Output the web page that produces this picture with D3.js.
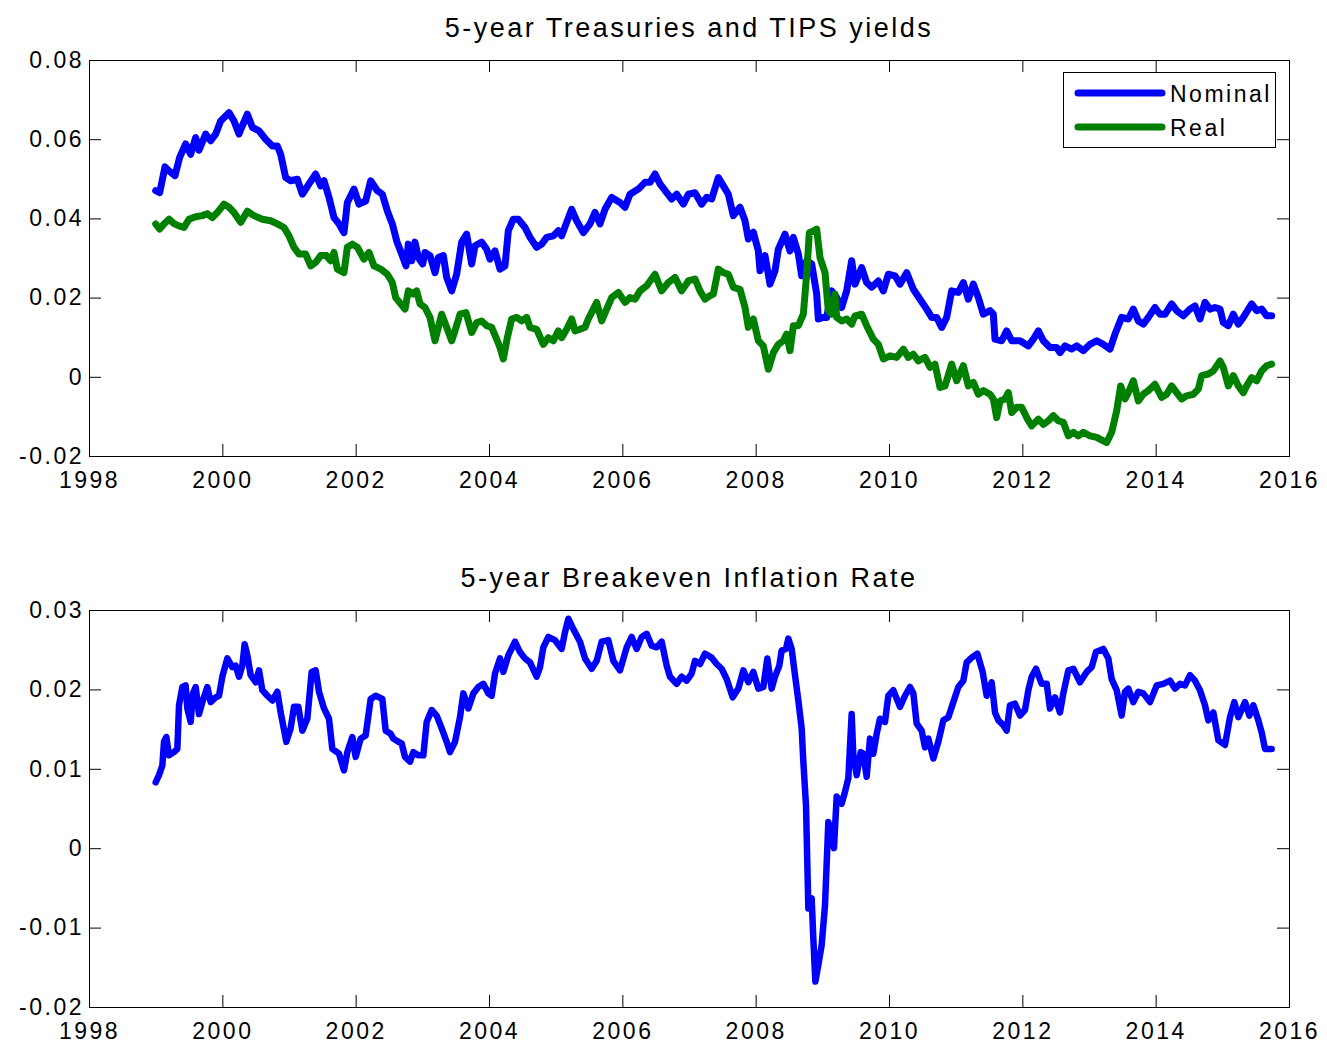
<!DOCTYPE html>
<html>
<head>
<meta charset="utf-8">
<script src="https://cdn.jsdelivr.net/npm/d3@7"></script>
<style>
  body { margin: 0; background: #fff; }
  svg { display: block; }
  text { font-family: "Liberation Sans", Arial, Helvetica, sans-serif; fill: #000; }
</style>
</head>
<body>
<svg width="1327" height="1046"></svg>
<script>
// 5-year nominal Treasury yield (decimal)
var nomDates = [1999.000,1999.060,1999.140,1999.200,1999.290,1999.360,1999.450,1999.525,1999.600,1999.650,1999.750,1999.825,1999.900,1999.975,2000.100,2000.175,2000.250,2000.300,2000.375,2000.450,2000.550,2000.650,2000.750,2000.825,2000.875,2000.950,2001.025,2001.125,2001.200,2001.300,2001.400,2001.475,2001.525,2001.600,2001.675,2001.750,2001.825,2001.875,2001.975,2002.050,2002.150,2002.225,2002.325,2002.400,2002.475,2002.550,2002.615,2002.690,2002.755,2002.790,2002.840,2002.890,2002.940,2003.005,2003.040,2003.115,2003.190,2003.240,2003.315,2003.365,2003.440,2003.515,2003.590,2003.665,2003.740,2003.790,2003.890,2003.965,2004.015,2004.090,2004.165,2004.240,2004.290,2004.365,2004.440,2004.540,2004.615,2004.715,2004.790,2004.865,2004.965,2005.040,2005.090,2005.165,2005.240,2005.315,2005.415,2005.515,2005.590,2005.665,2005.740,2005.840,2005.965,2006.040,2006.115,2006.240,2006.340,2006.415,2006.490,2006.565,2006.665,2006.740,2006.815,2006.915,2006.990,2007.090,2007.190,2007.265,2007.340,2007.440,2007.515,2007.590,2007.665,2007.765,2007.840,2007.890,2007.965,2008.040,2008.065,2008.140,2008.215,2008.290,2008.340,2008.440,2008.515,2008.565,2008.640,2008.690,2008.765,2008.840,2008.915,2008.940,2009.015,2009.065,2009.140,2009.215,2009.290,2009.365,2009.440,2009.490,2009.590,2009.665,2009.740,2009.840,2009.915,2009.990,2010.090,2010.165,2010.265,2010.365,2010.465,2010.565,2010.640,2010.715,2010.790,2010.865,2010.940,2011.040,2011.115,2011.190,2011.265,2011.340,2011.415,2011.515,2011.565,2011.590,2011.690,2011.765,2011.840,2011.965,2012.090,2012.165,2012.240,2012.315,2012.415,2012.515,2012.565,2012.640,2012.740,2012.815,2012.915,2013.015,2013.115,2013.215,2013.315,2013.390,2013.490,2013.590,2013.665,2013.740,2013.815,2013.890,2013.990,2014.065,2014.140,2014.240,2014.315,2014.415,2014.515,2014.590,2014.665,2014.740,2014.815,2014.890,2014.965,2015.015,2015.090,2015.165,2015.240,2015.315,2015.440,2015.515,2015.590,2015.665,2015.740];
var nomYield = [0.0470,0.0465,0.0530,0.0520,0.0508,0.0554,0.0588,0.0562,0.0604,0.0572,0.0613,0.0596,0.0613,0.0646,0.0667,0.0646,0.0613,0.0634,0.0663,0.0630,0.0621,0.0600,0.0583,0.0583,0.0562,0.0503,0.0495,0.0499,0.0461,0.0487,0.0512,0.0482,0.0495,0.0453,0.0402,0.0386,0.0364,0.0440,0.0474,0.0436,0.0444,0.0495,0.0470,0.0461,0.0419,0.0386,0.0343,0.0310,0.0280,0.0335,0.0293,0.0340,0.0301,0.0285,0.0314,0.0306,0.0263,0.0301,0.0306,0.0251,0.0217,0.0259,0.0340,0.0360,0.0285,0.0331,0.0340,0.0322,0.0297,0.0318,0.0272,0.0280,0.0369,0.0398,0.0398,0.0377,0.0352,0.0327,0.0335,0.0352,0.0356,0.0369,0.0356,0.0390,0.0423,0.0394,0.0364,0.0386,0.0415,0.0386,0.0423,0.0453,0.0440,0.0428,0.0461,0.0474,0.0491,0.0491,0.0512,0.0487,0.0465,0.0449,0.0461,0.0436,0.0461,0.0465,0.0436,0.0453,0.0449,0.0503,0.0482,0.0461,0.0407,0.0428,0.0394,0.0348,0.0365,0.0318,0.0268,0.0306,0.0234,0.0268,0.0322,0.0360,0.0318,0.0352,0.0310,0.0255,0.0293,0.0285,0.0209,0.0146,0.0150,0.0150,0.0217,0.0200,0.0175,0.0217,0.0293,0.0234,0.0276,0.0238,0.0226,0.0242,0.0217,0.0259,0.0255,0.0234,0.0263,0.0221,0.0196,0.0171,0.0150,0.0150,0.0125,0.0150,0.0217,0.0213,0.0238,0.0196,0.0234,0.0200,0.0158,0.0167,0.0158,0.0095,0.0091,0.0116,0.0091,0.0091,0.0078,0.0095,0.0116,0.0091,0.0074,0.0074,0.0061,0.0078,0.0070,0.0078,0.0066,0.0082,0.0091,0.0082,0.0070,0.0108,0.0150,0.0146,0.0171,0.0141,0.0133,0.0150,0.0175,0.0158,0.0158,0.0184,0.0167,0.0154,0.0171,0.0179,0.0146,0.0188,0.0171,0.0175,0.0171,0.0137,0.0129,0.0158,0.0133,0.0150,0.0184,0.0167,0.0171,0.0154,0.0154];

// 5-year TIPS (real) yield (decimal)
var realDates = [1999.000,1999.060,1999.125,1999.200,1999.275,1999.350,1999.425,1999.500,1999.600,1999.700,1999.775,1999.850,1999.925,2000.025,2000.100,2000.175,2000.275,2000.375,2000.475,2000.600,2000.725,2000.825,2000.925,2001.000,2001.075,2001.150,2001.250,2001.325,2001.400,2001.475,2001.560,2001.625,2001.675,2001.725,2001.825,2001.875,2001.950,2002.025,2002.125,2002.200,2002.275,2002.375,2002.475,2002.550,2002.600,2002.740,2002.790,2002.865,2002.915,2002.965,2003.040,2003.115,2003.190,2003.240,2003.290,2003.365,2003.440,2003.490,2003.565,2003.655,2003.740,2003.815,2003.890,2003.965,2004.040,2004.115,2004.165,2004.215,2004.275,2004.340,2004.415,2004.490,2004.565,2004.615,2004.715,2004.815,2004.890,2004.965,2005.040,2005.090,2005.165,2005.240,2005.290,2005.365,2005.440,2005.490,2005.565,2005.615,2005.690,2005.765,2005.840,2005.940,2006.040,2006.115,2006.190,2006.265,2006.365,2006.490,2006.590,2006.690,2006.790,2006.890,2006.990,2007.090,2007.165,2007.240,2007.315,2007.365,2007.440,2007.515,2007.590,2007.665,2007.765,2007.840,2007.890,2007.965,2008.040,2008.115,2008.190,2008.265,2008.340,2008.415,2008.465,2008.515,2008.565,2008.640,2008.715,2008.765,2008.805,2008.875,2008.915,2008.965,2009.040,2009.090,2009.140,2009.190,2009.215,2009.290,2009.365,2009.440,2009.490,2009.590,2009.665,2009.765,2009.840,2009.915,2010.015,2010.115,2010.215,2010.290,2010.365,2010.440,2010.540,2010.615,2010.690,2010.765,2010.840,2010.940,2011.015,2011.115,2011.190,2011.265,2011.340,2011.415,2011.515,2011.565,2011.615,2011.665,2011.740,2011.790,2011.840,2011.915,2011.990,2012.065,2012.140,2012.240,2012.315,2012.390,2012.465,2012.540,2012.615,2012.690,2012.765,2012.840,2012.915,2013.015,2013.115,2013.215,2013.265,2013.340,2013.415,2013.475,2013.540,2013.590,2013.665,2013.740,2013.815,2013.890,2013.990,2014.090,2014.165,2014.240,2014.315,2014.390,2014.465,2014.565,2014.640,2014.690,2014.790,2014.865,2014.965,2015.015,2015.090,2015.165,2015.240,2015.315,2015.365,2015.440,2015.515,2015.590,2015.665,2015.740];
var realYield = [0.0386,0.0373,0.0386,0.0398,0.0387,0.0381,0.0377,0.0398,0.0404,0.0407,0.0412,0.0402,0.0415,0.0436,0.0428,0.0415,0.0390,0.0418,0.0407,0.0398,0.0394,0.0386,0.0377,0.0356,0.0327,0.0310,0.0310,0.0280,0.0289,0.0306,0.0306,0.0293,0.0314,0.0272,0.0263,0.0327,0.0335,0.0327,0.0297,0.0314,0.0280,0.0272,0.0259,0.0238,0.0200,0.0171,0.0217,0.0209,0.0217,0.0184,0.0175,0.0150,0.0091,0.0125,0.0158,0.0125,0.0091,0.0116,0.0158,0.0162,0.0112,0.0137,0.0141,0.0129,0.0125,0.0095,0.0074,0.0045,0.0099,0.0146,0.0150,0.0141,0.0150,0.0125,0.0120,0.0082,0.0099,0.0091,0.0116,0.0099,0.0120,0.0146,0.0116,0.0120,0.0125,0.0146,0.0171,0.0188,0.0141,0.0171,0.0200,0.0213,0.0188,0.0200,0.0196,0.0217,0.0230,0.0259,0.0217,0.0238,0.0251,0.0217,0.0242,0.0247,0.0217,0.0196,0.0205,0.0209,0.0272,0.0263,0.0259,0.0226,0.0221,0.0175,0.0125,0.0146,0.0091,0.0078,0.0019,0.0061,0.0082,0.0091,0.0108,0.0066,0.0129,0.0129,0.0158,0.0259,0.0364,0.0369,0.0373,0.0301,0.0263,0.0167,0.0158,0.0209,0.0150,0.0141,0.0146,0.0133,0.0154,0.0158,0.0129,0.0095,0.0082,0.0045,0.0053,0.0049,0.0070,0.0049,0.0057,0.0040,0.0049,0.0024,0.0032,-0.0027,-0.0023,0.0032,-0.0010,0.0028,-0.0023,-0.0014,-0.0044,-0.0035,-0.0044,-0.0056,-0.0103,-0.0061,-0.0056,-0.0040,-0.0090,-0.0077,-0.0077,-0.0103,-0.0124,-0.0107,-0.0120,-0.0111,-0.0098,-0.0111,-0.0115,-0.0149,-0.0140,-0.0149,-0.0140,-0.0149,-0.0153,-0.0162,-0.0166,-0.0140,-0.0086,-0.0023,-0.0056,-0.0040,-0.0010,-0.0061,-0.0044,-0.0035,-0.0019,-0.0052,-0.0044,-0.0023,-0.0040,-0.0056,-0.0048,-0.0044,-0.0031,0.0003,0.0007,0.0015,0.0040,0.0024,-0.0023,0.0003,-0.0023,-0.0040,-0.0023,-0.0002,-0.0010,0.0015,0.0028,0.0032];

// 5-year breakeven inflation rate (decimal)
var beDates = [1999.000,1999.050,1999.100,1999.125,1999.160,1999.200,1999.275,1999.325,1999.350,1999.400,1999.450,1999.475,1999.525,1999.560,1999.600,1999.650,1999.700,1999.775,1999.825,1999.900,1999.950,2000.000,2000.075,2000.150,2000.200,2000.250,2000.300,2000.335,2000.375,2000.425,2000.500,2000.550,2000.600,2000.675,2000.750,2000.825,2000.875,2000.960,2001.025,2001.075,2001.140,2001.200,2001.275,2001.340,2001.400,2001.450,2001.525,2001.600,2001.650,2001.750,2001.825,2001.875,2001.950,2002.000,2002.075,2002.150,2002.225,2002.300,2002.400,2002.450,2002.525,2002.565,2002.640,2002.690,2002.740,2002.815,2002.865,2002.940,2003.015,2003.065,2003.140,2003.215,2003.290,2003.365,2003.415,2003.490,2003.565,2003.615,2003.690,2003.765,2003.840,2003.915,2003.990,2004.040,2004.090,2004.165,2004.215,2004.290,2004.390,2004.465,2004.540,2004.615,2004.715,2004.765,2004.815,2004.890,2004.990,2005.090,2005.140,2005.190,2005.265,2005.365,2005.440,2005.540,2005.615,2005.690,2005.790,2005.865,2005.965,2006.065,2006.140,2006.215,2006.290,2006.365,2006.440,2006.515,2006.590,2006.665,2006.715,2006.815,2006.890,2006.965,2007.040,2007.090,2007.165,2007.240,2007.340,2007.415,2007.490,2007.565,2007.655,2007.740,2007.815,2007.890,2007.965,2008.040,2008.115,2008.175,2008.240,2008.290,2008.355,2008.390,2008.455,2008.490,2008.540,2008.590,2008.640,2008.690,2008.715,2008.755,2008.790,2008.840,2008.865,2008.895,2008.940,2008.990,2009.040,2009.090,2009.140,2009.175,2009.215,2009.290,2009.340,2009.390,2009.440,2009.465,2009.515,2009.575,2009.615,2009.665,2009.715,2009.765,2009.815,2009.865,2009.940,2009.990,2010.065,2010.165,2010.240,2010.315,2010.365,2010.415,2010.490,2010.540,2010.590,2010.665,2010.740,2010.815,2010.890,2010.965,2011.040,2011.115,2011.165,2011.240,2011.325,2011.405,2011.465,2011.540,2011.590,2011.640,2011.715,2011.765,2011.815,2011.890,2011.965,2012.040,2012.090,2012.140,2012.205,2012.290,2012.365,2012.415,2012.490,2012.565,2012.615,2012.690,2012.765,2012.865,2012.965,2013.040,2013.105,2013.215,2013.290,2013.340,2013.415,2013.490,2013.540,2013.590,2013.665,2013.740,2013.815,2013.915,2014.015,2014.115,2014.215,2014.290,2014.365,2014.440,2014.515,2014.590,2014.665,2014.740,2014.790,2014.865,2014.940,2015.040,2015.115,2015.180,2015.240,2015.340,2015.405,2015.465,2015.540,2015.590,2015.640,2015.740];
var beRate = [0.0083,0.0092,0.0104,0.0134,0.0140,0.0117,0.0121,0.0125,0.0180,0.0203,0.0205,0.0176,0.0159,0.0195,0.0203,0.0169,0.0184,0.0203,0.0184,0.0190,0.0192,0.0216,0.0239,0.0228,0.0230,0.0216,0.0230,0.0257,0.0243,0.0218,0.0209,0.0224,0.0199,0.0192,0.0186,0.0197,0.0171,0.0134,0.0151,0.0178,0.0178,0.0148,0.0163,0.0222,0.0224,0.0197,0.0176,0.0163,0.0125,0.0119,0.0098,0.0121,0.0140,0.0115,0.0138,0.0142,0.0188,0.0192,0.0188,0.0148,0.0144,0.0138,0.0134,0.0132,0.0115,0.0109,0.0121,0.0117,0.0117,0.0159,0.0174,0.0167,0.0151,0.0134,0.0121,0.0134,0.0165,0.0195,0.0176,0.0195,0.0203,0.0207,0.0195,0.0192,0.0220,0.0239,0.0222,0.0243,0.0260,0.0247,0.0239,0.0234,0.0216,0.0228,0.0253,0.0266,0.0262,0.0251,0.0272,0.0289,0.0276,0.0260,0.0239,0.0226,0.0236,0.0260,0.0262,0.0236,0.0224,0.0253,0.0266,0.0251,0.0266,0.0270,0.0255,0.0253,0.0260,0.0230,0.0216,0.0207,0.0216,0.0211,0.0220,0.0236,0.0232,0.0245,0.0240,0.0232,0.0226,0.0213,0.0190,0.0201,0.0224,0.0209,0.0222,0.0201,0.0203,0.0239,0.0201,0.0216,0.0230,0.0249,0.0251,0.0264,0.0251,0.0218,0.0186,0.0151,0.0109,0.0054,-0.0076,-0.0063,-0.0114,-0.0168,-0.0147,-0.0122,-0.0072,0.0033,0.0012,0.0000,0.0065,0.0056,0.0071,0.0088,0.0169,0.0117,0.0092,0.0121,0.0119,0.0090,0.0138,0.0119,0.0144,0.0163,0.0159,0.0192,0.0199,0.0178,0.0192,0.0203,0.0195,0.0157,0.0148,0.0127,0.0138,0.0113,0.0134,0.0161,0.0165,0.0184,0.0203,0.0211,0.0234,0.0240,0.0245,0.0222,0.0192,0.0209,0.0171,0.0161,0.0155,0.0148,0.0180,0.0182,0.0167,0.0174,0.0199,0.0216,0.0226,0.0207,0.0207,0.0176,0.0190,0.0171,0.0195,0.0224,0.0226,0.0209,0.0222,0.0228,0.0247,0.0251,0.0239,0.0213,0.0199,0.0167,0.0197,0.0201,0.0184,0.0197,0.0195,0.0184,0.0205,0.0207,0.0211,0.0201,0.0207,0.0205,0.0218,0.0211,0.0199,0.0180,0.0161,0.0171,0.0136,0.0130,0.0165,0.0184,0.0165,0.0184,0.0167,0.0180,0.0161,0.0146,0.0125,0.0125];

var yearTicks = [1998, 2000, 2002, 2004, 2006, 2008, 2010, 2012, 2014, 2016];
var topTicks = [-0.02, 0, 0.02, 0.04, 0.06, 0.08];
var bottomTicks = [-0.02, -0.01, 0, 0.01, 0.02, 0.03];

var svg = d3.select("svg");
var left = 89, right = 1289;
// plain hyphen minus, like MATLAB labels
var fmt = function (d) { return d === 0 ? "0" : d3.format(".2f")(d).replace("\u2212", "-"); };

var x = d3.scaleLinear().domain([1998, 2016]).range([left, right]);

// draw one MATLAB-style axes box with ticks on all sides
function drawAxes(y, ticks, top, bottom, title) {
  var g = svg.append("g");
  var inner = 12;

  g.append("g").attr("transform", "translate(0," + bottom + ")")
    .call(d3.axisBottom(x).tickValues(yearTicks).tickSize(-inner).tickPadding(16).tickFormat(d3.format("d")));
  g.append("g").attr("transform", "translate(0," + top + ")")
    .call(d3.axisTop(x).tickValues(yearTicks).tickSize(-inner).tickFormat(""));
  g.append("g").attr("transform", "translate(" + left + ",0)")
    .call(d3.axisLeft(y).tickValues(ticks).tickSize(-inner).tickPadding(5).tickFormat(fmt));
  g.append("g").attr("transform", "translate(" + right + ",0)")
    .call(d3.axisRight(y).tickValues(ticks).tickSize(-inner).tickFormat(""));

  g.selectAll(".domain").remove();
  g.selectAll(".tick line").attr("stroke", "#000").attr("stroke-width", 1);
  g.selectAll(".tick text")
    .style("font-size", "23px")
    .style("letter-spacing", "2.5px")
    .style("font-family", "'Liberation Sans', Arial, sans-serif")
    .attr("fill", "#000");

  g.append("rect")
    .attr("x", left + 0.5).attr("y", top + 0.5)
    .attr("width", right - left).attr("height", bottom - top)
    .attr("fill", "none").attr("stroke", "#000").attr("stroke-width", 1);

  svg.append("text")
    .attr("x", (left + right) / 2).attr("y", top - 23)
    .attr("text-anchor", "middle")
    .style("font-size", "27px")
    .style("letter-spacing", "2.5px")
    .text(title);
}

function drawLine(dates, vals, y, color, w) {
  var line = d3.line()
    .x(function (d, i) { return x(dates[i]); })
    .y(function (d) { return y(d); });
  svg.append("path")
    .datum(vals)
    .attr("d", line)
    .attr("fill", "none")
    .attr("stroke", color)
    .attr("stroke-width", w)
    .attr("stroke-linejoin", "round")
    .attr("stroke-linecap", "round");
}

// top panel
var yTop = d3.scaleLinear().domain([-0.02, 0.08]).range([456, 60]);
drawAxes(yTop, topTicks, 60, 456, "5-year Treasuries and TIPS yields");
drawLine(nomDates, nomYield, yTop, "#0000ff", 7);
drawLine(realDates, realYield, yTop, "#008000", 7);

// legend
var lg = svg.append("g");
lg.append("rect")
  .attr("x", 1063.5).attr("y", 72.5).attr("width", 212).attr("height", 75)
  .attr("fill", "#fff").attr("stroke", "#000").attr("stroke-width", 1);
var legendItems = [["Nominal", "#0000ff"], ["Real", "#008000"]];
legendItems.forEach(function (d, i) {
  var cy = 93 + i * 34;
  lg.append("line")
    .attr("x1", 1078).attr("x2", 1162).attr("y1", cy).attr("y2", cy)
    .attr("stroke", d[1]).attr("stroke-width", 7).attr("stroke-linecap", "round");
  lg.append("text")
    .attr("x", 1170).attr("y", cy + 9)
    .style("font-size", "23px")
    .style("letter-spacing", "2.5px")
    .text(d[0]);
});

// bottom panel
var yBot = d3.scaleLinear().domain([-0.02, 0.03]).range([1007, 610]);
drawAxes(yBot, bottomTicks, 610, 1007, "5-year Breakeven Inflation Rate");
drawLine(beDates, beRate, yBot, "#0000ff", 6.5);
</script>
</body>
</html>
